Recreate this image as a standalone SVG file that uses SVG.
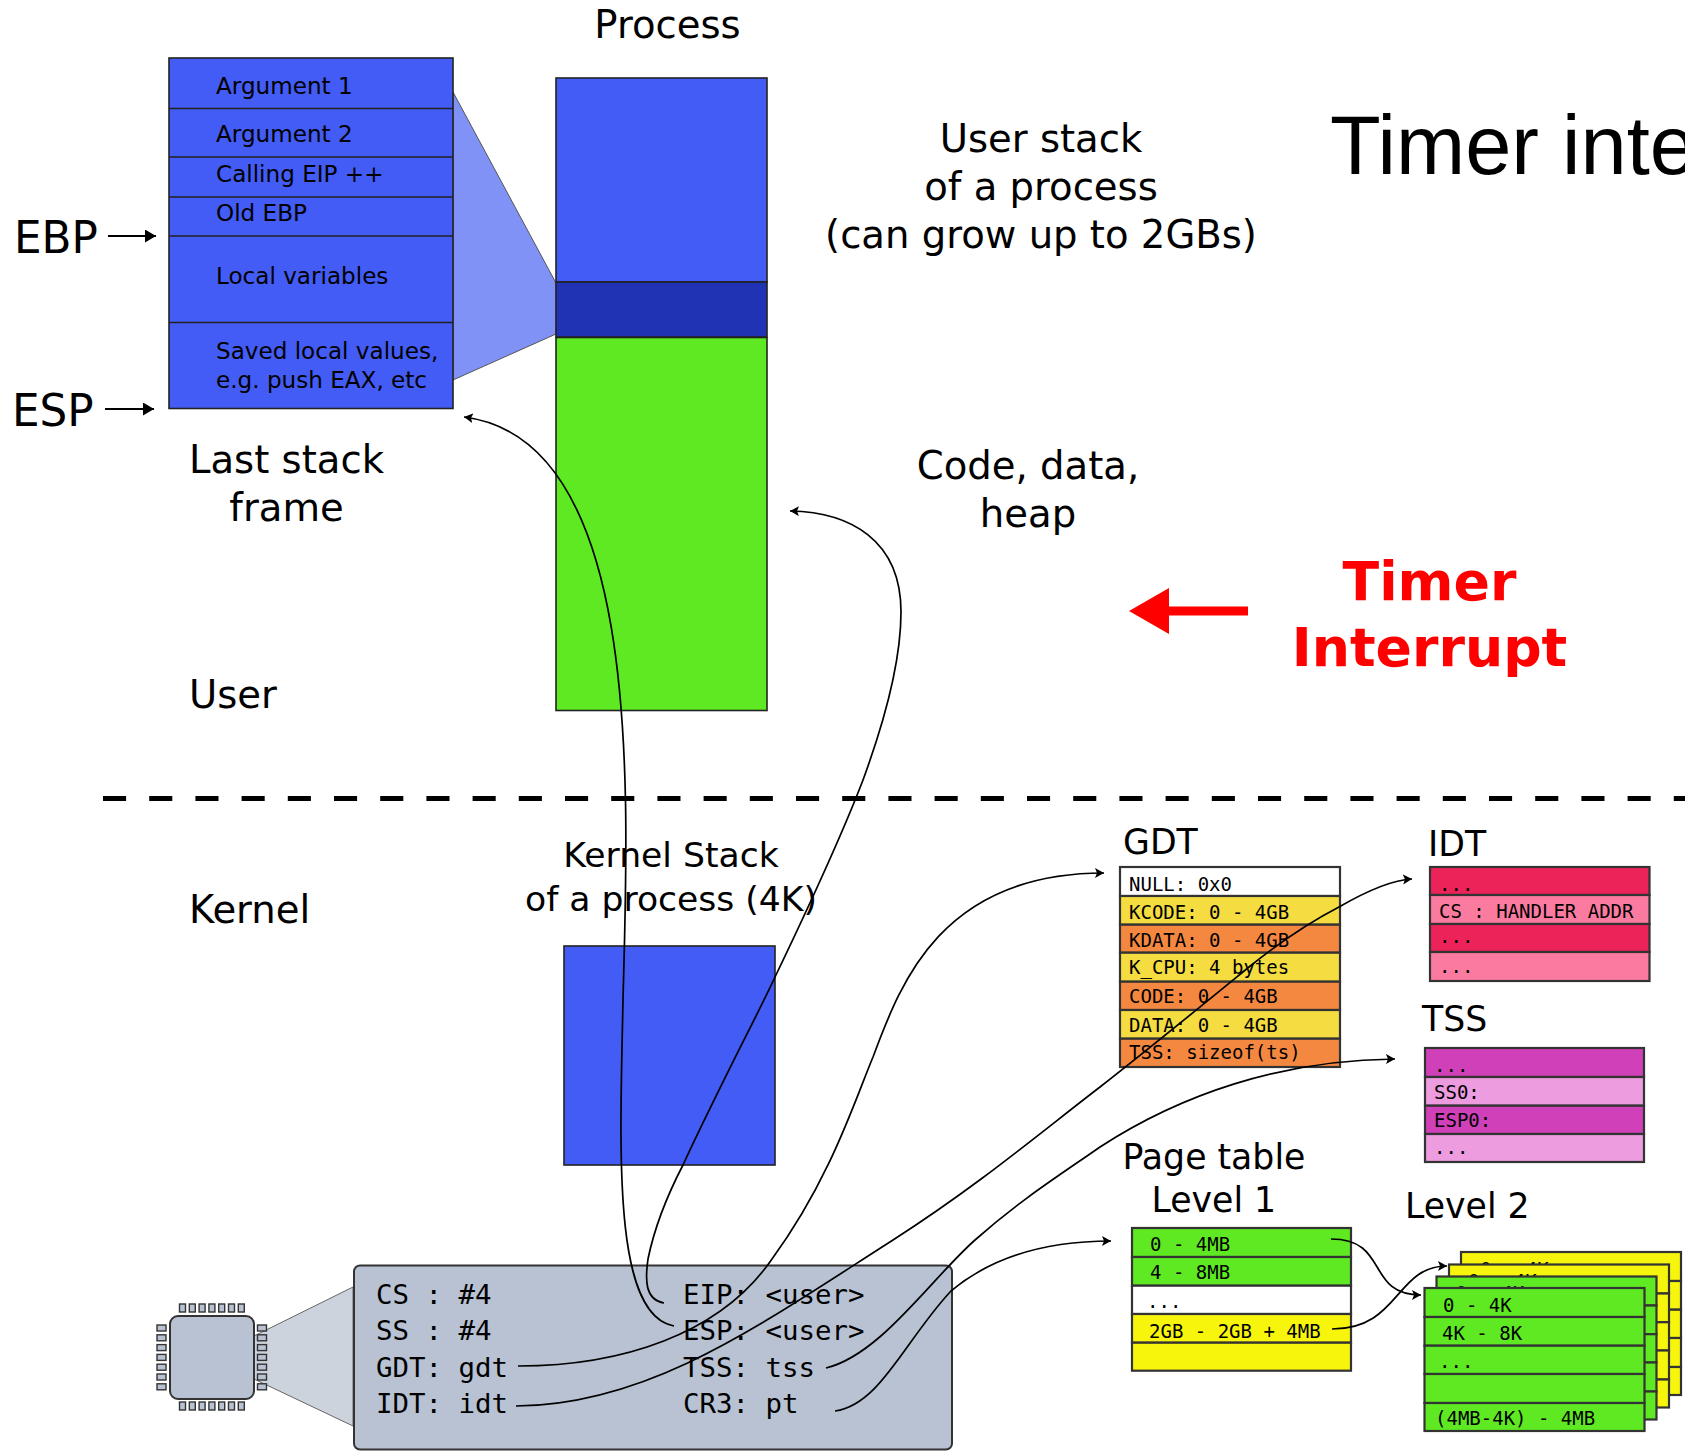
<svg xmlns="http://www.w3.org/2000/svg" width="1685" height="1454" viewBox="0 0 1685 1454">
<style>
.s{font-family:"DejaVu Sans",sans-serif;fill:#000}
.l{font-size:38.6px}
.k{font-size:34.6px}
.e{font-size:43.7px}
.h{font-size:34.7px}
.f{font-size:23.1px}
.m{font-family:"DejaVu Sans Mono",monospace;font-size:19px;fill:#000}
.r{font-family:"DejaVu Sans Mono",monospace;font-size:27.4px;fill:#000}
.c{text-anchor:middle}
.b{stroke:#333;stroke-width:2.2}
.n{stroke:#222;stroke-width:1.6}
.blue{fill:#435cf5}.green{fill:#5fe922}.white{fill:#fff}.yel{fill:#f5dc40}.org{fill:#f58840}.y2{fill:#f8f50d}
.red{fill:#ec2359}.pnk{fill:#fb7ba0}.mag{fill:#d040b8}.lil{fill:#ec9cdf}
.pin{fill:#b8c2d2;stroke:#333;stroke-width:1.4}
.cn{fill:none;stroke:#000;stroke-width:1.7;marker-end:url(#a)}
.cb{fill:none;stroke:#000;stroke-width:2;marker-end:url(#b)}
.t{stroke:#555;stroke-width:1}
</style>
<defs>
<marker id="a" markerUnits="userSpaceOnUse" markerWidth="12" markerHeight="12" refX="9" refY="5" orient="auto"><path d="M0,0L9,5L0,10L2,5Z" fill="#000"/></marker>
<marker id="b" markerUnits="userSpaceOnUse" markerWidth="14" markerHeight="14" refX="11" refY="6.500" orient="auto"><path d="M0,0L11,6.500L0,13Z" fill="#000"/></marker>
<g id="sheet" class="b">
<rect x="0" y="0" width="220" height="29"/><rect x="0" y="29" width="220" height="28.7"/><rect x="0" y="57.7" width="220" height="28.3"/><rect x="0" y="86" width="220" height="29"/><rect x="0" y="115" width="220" height="28"/>
</g>
</defs>
<rect width="1685" height="1454" fill="#fff"/>

<g id="process">
<text class="s l" x="667.500" y="38" text-anchor="middle">Process</text>
<path d="M453,92L556,283V334L453,380Z" fill="#8092f5" class="t"/>
<rect class="blue n" x="556" y="78" width="211" height="204"/>
<rect x="556" y="282" width="211" height="55" fill="#2033b5" class="n"/>
<rect class="green n" x="556" y="337.500" width="211" height="373"/>
</g>

<g id="stack-frame">
<rect class="blue n" x="169" y="58" width="284" height="350.500"/>
<path d="M169,108.500H453M169,157H453M169,197H453M169,236H453M169,322.500H453" class="n" fill="none"/>
<text class="s f" x="216" y="93.500">Argument 1</text>
<text class="s f" x="216" y="142">Argument 2</text>
<text class="s f" x="216" y="182">Calling EIP ++</text>
<text class="s f" x="216" y="221">Old EBP</text>
<text class="s f" x="216" y="284">Local variables</text>
<text class="s f" x="216" y="359">Saved local values,</text>
<text class="s f" x="216" y="388">e.g. push EAX, etc</text>
<text class="s l" x="286.500" y="473" text-anchor="middle">Last stack</text>
<text class="s l" x="286.500" y="521" text-anchor="middle">frame</text>
</g>

<g id="ebp"><text class="s e" x="14" y="253">EBP</text></g>
<g id="esp"><text class="s e" x="12" y="426">ESP</text></g>

<g id="labels">
<text class="s l c" x="1041" y="151.500">User stack</text>
<text class="s l c" x="1041" y="200">of a process</text>
<text class="s l c" x="1041" y="248">(can grow up to 2GBs)</text>
<text class="s l c" x="1028" y="479">Code, data,</text>
<text class="s l c" x="1028" y="527">heap</text>
<text class="s l" x="189" y="708">User</text>
<text class="s l" x="189" y="923">Kernel</text>
<text class="s k c" x="671" y="866.500">Kernel Stack</text>
<text class="s k c" x="671" y="911">of a process (4K)</text>
<text x="1330" y="174" font-family="Liberation Sans, sans-serif" font-size="83">Timer inte</text>
</g>

<g id="timer-interrupt">
<path d="M1129,611L1169,588V606.500H1248V615.500H1169V634Z" fill="#f00"/>
<text class="c" x="1429.500" y="599.500" font-family="DejaVu Sans, sans-serif" font-weight="bold" font-size="53.700" fill="#f00">Timer</text>
<text class="c" x="1429.500" y="666" font-family="DejaVu Sans, sans-serif" font-weight="bold" font-size="53.700" fill="#f00">Interrupt</text>
</g>

<line x1="103" y1="798.500" x2="1685" y2="798.500" stroke="#000" stroke-width="5" stroke-dasharray="23.100 23.100"/>

<g id="kernel-stack"><rect class="blue n" x="564" y="946" width="211" height="219"/></g>

<g id="gdt">
<text class="s h" x="1123" y="854">GDT</text>
<g class="b">
<rect class="white" x="1120" y="867" width="220" height="29"/>
<rect class="yel" x="1120" y="896" width="220" height="28.700"/>
<rect class="org" x="1120" y="924.700" width="220" height="28"/>
<rect class="yel" x="1120" y="952.700" width="220" height="29"/>
<rect class="org" x="1120" y="981.700" width="220" height="28.300"/>
<rect class="yel" x="1120" y="1010" width="220" height="28.700"/>
<rect class="org" x="1120" y="1038.700" width="220" height="28.300"/>
</g>
<text class="m" x="1129" y="890.700">NULL: 0x0</text>
<text class="m" x="1129" y="919">KCODE: 0 - 4GB</text>
<text class="m" x="1129" y="946.700">KDATA: 0 - 4GB</text>
<text class="m" x="1129" y="974">K_CPU: 4 bytes</text>
<text class="m" x="1129" y="1002.700">CODE: 0 - 4GB</text>
<text class="m" x="1129" y="1032">DATA: 0 - 4GB</text>
<text class="m" x="1129" y="1059">TSS: sizeof(ts)</text>
</g>

<g id="idt">
<text class="s h" x="1428" y="856">IDT</text>
<g class="b">
<rect class="red" x="1430" y="867" width="219.500" height="28"/>
<rect class="pnk" x="1430" y="895" width="219.500" height="29"/>
<rect class="red" x="1430" y="924" width="219.500" height="28"/>
<rect class="pnk" x="1430" y="952" width="219.500" height="29"/>
</g>
<text class="m" x="1439" y="890.700">...</text>
<text class="m" x="1439" y="917.700">CS : HANDLER ADDR</text>
<text class="m" x="1439" y="943">...</text>
<text class="m" x="1439" y="972.700">...</text>
</g>

<g id="tss">
<text class="s h" x="1422" y="1031">TSS</text>
<g class="b">
<rect class="mag" x="1425" y="1048" width="219" height="29"/>
<rect class="lil" x="1425" y="1077" width="219" height="28.700"/>
<rect class="mag" x="1425" y="1105.700" width="219" height="28.300"/>
<rect class="lil" x="1425" y="1134" width="219" height="28"/>
</g>
<text class="m" x="1434" y="1072">...</text>
<text class="m" x="1434" y="1099">SS0:</text>
<text class="m" x="1434" y="1127">ESP0:</text>
<text class="m" x="1434" y="1154">...</text>
</g>

<g id="page-table-1">
<text class="s h" x="1122.500" y="1168.500">Page table</text>
<text class="s h" x="1151.500" y="1211.500">Level 1</text>
<g class="b">
<rect class="green" x="1132" y="1228" width="219" height="29"/>
<rect class="green" x="1132" y="1257" width="219" height="28.700"/>
<rect class="white" x="1132" y="1285.700" width="219" height="28.300"/>
<rect class="y2" x="1132" y="1314" width="219" height="28.700"/>
<rect class="y2" x="1132" y="1342.700" width="219" height="28"/>
</g>
<text class="m" x="1150" y="1251">0 - 4MB</text>
<text class="m" x="1150" y="1279">4 - 8MB</text>
<text class="m" x="1147" y="1308">...</text>
<text class="m" x="1149" y="1337.700">2GB - 2GB + 4MB</text>
</g>

<g id="page-table-2">
<text class="s h" x="1405" y="1217.500">Level 2</text>
<g transform="translate(1461,1252)"><use href="#sheet" class="y2"/><text class="m" x="19" y="23.700">0 - 4K</text></g>
<g transform="translate(1449,1264.500)"><use href="#sheet" class="y2"/><text class="m" x="19" y="23.700">0 - 4K</text></g>
<g transform="translate(1436.500,1276.500)"><use href="#sheet" class="green"/><text class="m" x="19" y="23.700">0 - 4K</text></g>
<g transform="translate(1424.500,1288)"><use href="#sheet" class="green"/>
<text class="m" x="18.500" y="23.700">0 - 4K</text>
<text class="m" x="17.500" y="52">4K - 8K</text>
<text class="m" x="14.500" y="80">...</text>
<text class="m" x="10.500" y="137">(4MB-4K) - 4MB</text>
</g>
</g>

<g id="cpu">
<path d="M254,1336L353,1287V1426L254,1379Z" fill="#cdd3dd" stroke="#666" stroke-width="1"/>
<rect x="170" y="1316" width="84" height="83" rx="8" fill="#b8c2d2" stroke="#333" stroke-width="2"/>
<g>
<rect class="pin" x="179.500" y="1304" width="6" height="8"/><rect class="pin" x="189.300" y="1304" width="6" height="8"/><rect class="pin" x="199.100" y="1304" width="6" height="8"/><rect class="pin" x="208.900" y="1304" width="6" height="8"/><rect class="pin" x="218.700" y="1304" width="6" height="8"/><rect class="pin" x="228.500" y="1304" width="6" height="8"/><rect class="pin" x="238.300" y="1304" width="6" height="8"/>
<rect class="pin" x="179.500" y="1402" width="6" height="8"/><rect class="pin" x="189.300" y="1402" width="6" height="8"/><rect class="pin" x="199.100" y="1402" width="6" height="8"/><rect class="pin" x="208.900" y="1402" width="6" height="8"/><rect class="pin" x="218.700" y="1402" width="6" height="8"/><rect class="pin" x="228.500" y="1402" width="6" height="8"/><rect class="pin" x="238.300" y="1402" width="6" height="8"/>
<rect class="pin" x="157" y="1325" width="9" height="6"/><rect class="pin" x="157" y="1334.800" width="9" height="6"/><rect class="pin" x="157" y="1344.600" width="9" height="6"/><rect class="pin" x="157" y="1354.400" width="9" height="6"/><rect class="pin" x="157" y="1364.200" width="9" height="6"/><rect class="pin" x="157" y="1374" width="9" height="6"/><rect class="pin" x="157" y="1383.800" width="9" height="6"/>
<rect class="pin" x="257.500" y="1325" width="9" height="6"/><rect class="pin" x="257.500" y="1334.800" width="9" height="6"/><rect class="pin" x="257.500" y="1344.600" width="9" height="6"/><rect class="pin" x="257.500" y="1354.400" width="9" height="6"/><rect class="pin" x="257.500" y="1364.200" width="9" height="6"/><rect class="pin" x="257.500" y="1374" width="9" height="6"/><rect class="pin" x="257.500" y="1383.800" width="9" height="6"/>
</g>
</g>

<g id="registers">
<rect x="354" y="1265.500" width="598" height="184" rx="6" fill="#b8c2d2" stroke="#333" stroke-width="2"/>
<text class="r" x="376" y="1303.500">CS : #4</text>
<text class="r" x="376" y="1340">SS : #4</text>
<text class="r" x="376" y="1376.500">GDT: gdt</text>
<text class="r" x="376" y="1412.500">IDT: idt</text>
<text class="r" x="683" y="1303.500">EIP: &lt;user&gt;</text>
<text class="r" x="683" y="1340">ESP: &lt;user&gt;</text>
<text class="r" x="683" y="1376.500">TSS: tss</text>
<text class="r" x="683" y="1412.500">CR3: pt</text>
</g>

<g id="connectors">
<path class="cb" d="M108,236H156"/>
<path class="cb" d="M105,409H154"/>
<path class="cn" d="M674,1326C612,1315 620,1150 623,1000C628,800 646,440 464,417"/>
<path class="cn" d="M664,1303C645,1300 645,1280 648,1259C655,1225 670,1190 683,1165C720,1085 760,1010 775,977C800,925 840,840 863,780C885,720 901,660 901,612C901,540 850,512 790,511"/>
<path class="cn" d="M518,1366C620,1366 720,1335 772,1259C830,1180 855,1100 873,1057C900,985 940,873 1104,873"/>
<path class="cn" d="M516,1406C650,1405 760,1325 893,1240C980,1184 1040,1133 1100,1087C1150,1048 1200,1007 1249,967C1280,942 1310,922 1339,907C1365,892 1390,880 1412,879"/>
<path class="cn" d="M826,1368C880,1355 930,1280 975,1240C1020,1200 1060,1175 1100,1147C1180,1095 1280,1060 1395,1059"/>
<path class="cn" d="M835,1411C880,1405 905,1340 951,1291C1000,1250 1060,1241 1111,1241"/>
<path class="cn" d="M1331,1239C1390,1239 1365,1295 1421,1295"/>
<path class="cn" d="M1332,1329C1400,1329 1395,1266 1447,1266"/>
</g>
</svg>
